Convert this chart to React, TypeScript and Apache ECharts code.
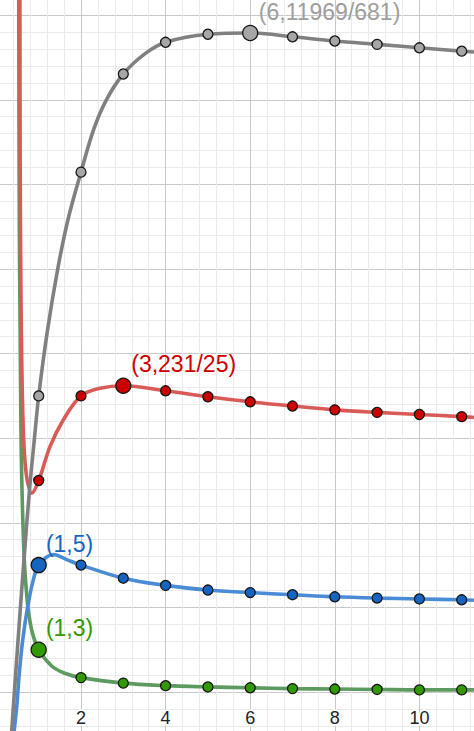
import React, { useEffect, useRef } from 'react';
import * as echarts from 'echarts';

// integer sample positions
const xInt = [1, 2, 3, 4, 5, 6, 7, 8, 9, 10, 11];

// values of the sequences at the integer positions
const grayValues = [9.0, 14.29, 16.61, 17.36, 17.55, 17.58, 17.49, 17.39, 17.31, 17.23, 17.15];
const redValues = [7.0, 9.0, 9.24, 9.12, 8.98, 8.86, 8.76, 8.67, 8.61, 8.56, 8.51];
const blueValues = [5.0, 5.0, 4.69, 4.52, 4.41, 4.35, 4.3, 4.25, 4.22, 4.2, 4.18];
const greenValues = [3.0, 2.34, 2.21, 2.15, 2.12, 2.1, 2.08, 2.07, 2.06, 2.05, 2.05];

// extra points
const grayCurveExtra = [
  [0.345, 0.85], [0.45, 2.35], [0.55, 3.75], [0.65, 5.1], [0.78, 6.75], [0.9, 8.0],
  [1.2, 10.5], [1.45, 12.0], [1.7, 13.2], [2.3, 15.3], [2.6, 16.0], [3.5, 17.08],
  [11.29, 17.13],
];
const redCurveExtra = [
  [0.555, 18.6], [0.562, 14.5], [0.575, 12.0], [0.59, 10.5], [0.61, 9.2], [0.64, 8.1],
  [0.68, 7.4], [0.74, 6.95], [0.834, 6.7], [1.267, 7.8], [1.58, 8.43], [2.45, 9.18], [11.29, 8.49],
];
const blueCurveExtra = [
  [0.41, 1.0], [0.48, 1.65], [0.541, 2.44], [0.622, 3.23], [0.74, 4.02], [0.873, 4.65],
  [1.35, 5.25], [1.66, 5.13], [11.29, 4.17],
];
const greenCurveExtra = [
  [0.528, 18.6], [0.535, 15.0], [0.545, 12.5], [0.563, 10.3], [0.58, 8.3], [0.6, 7.0],
  [0.63, 5.9], [0.66, 5.1], [0.7, 4.5], [0.754, 3.94], [0.85, 3.4], [1.3, 2.62], [1.6, 2.45],
  [11.29, 2.05],
];

// highlighted points and their labels
const grayPeakX = 6;
const grayPeakLabel = '(6,11969/681)';
const redPeakX = 3;
const redPeakLabel = '(3,231/25)';
const bluePeakX = 1;
const bluePeakLabel = '(1,5)';
const greenPeakX = 1;
const greenPeakLabel = '(1,3)';

const xTickLabels = ['2', '4', '6', '8', '10'];

const FONT = "'Liberation Sans', Arial, sans-serif";

function buildCurve(extra: number[][], values: number[]) {
  const pts = [...extra, ...xInt.map((x, i) => [x, values[i]])];
  pts.sort((a, b) => a[0] - b[0]);
  return pts;
}

function makeSeries(
  values: number[],
  extra: number[][],
  peakX: number,
  peakLabel: string,
  lineColor: string,
  pointColor: string,
  labelColor: string,
  labelOffset: [number, number],
  z: number
) {
  const small = xInt
    .map((x, i) => [x, values[i]])
    .filter((p) => p[0] !== peakX);
  const big = xInt
    .map((x, i) => [x, values[i]])
    .filter((p) => p[0] === peakX);
  return [
    {
      type: 'line',
      data: buildCurve(extra, values),
      smooth: 0.35,
      showSymbol: false,
      silent: true,
      lineStyle: { color: lineColor, width: 3.6 },
      z,
    },
    {
      type: 'scatter',
      data: small,
      symbolSize: 10,
      silent: true,
      itemStyle: { color: pointColor, borderColor: '#151515', borderWidth: 1.3, opacity: 1 },
      z: z + 10,
    },
    {
      type: 'scatter',
      data: big,
      symbolSize: 15,
      silent: true,
      itemStyle: { color: pointColor, borderColor: '#151515', borderWidth: 1.3, opacity: 1 },
      label: {
        show: true,
        formatter: peakLabel,
        position: [7.5 + labelOffset[0], 7.5 + labelOffset[1]],
        align: 'center',
        verticalAlign: 'middle',
        color: labelColor,
        fontSize: 23,
        fontFamily: FONT,
      },
      z: z + 11,
    },
  ];
}

export default function App() {
  const ref = useRef<HTMLDivElement>(null);

  useEffect(() => {
    if (!ref.current) return;
    const chart = echarts.init(ref.current, undefined, { renderer: 'svg' });
    const option = {
      animation: false,
      backgroundColor: '#ffffff',
      grid: {
        left: -3.6,
        right: -30,
        top: -69.4,
        bottom: -45.6,
        containLabel: false,
        outerBoundsMode: 'none',
      },
      xAxis: {
        type: 'value',
        min: 0,
        max: 12,
        interval: 2,
        axisLine: { show: false },
        axisTick: { show: false },
        splitLine: { show: true, lineStyle: { color: '#c9c9c9', width: 1 } },
        minorTick: { show: false, splitNumber: 5 },
        minorSplitLine: { show: true, lineStyle: { color: '#ebebeb', width: 1 } },
        axisLabel: {
          show: true,
          margin: -59,
          verticalAlign: 'middle',
          fontSize: 18,
          color: '#222',
          fontFamily: FONT,
          textBorderColor: '#fff',
          textBorderWidth: 3,
          formatter: (v: number) => (xTickLabels.includes(String(v)) ? String(v) : ''),
        },
      },
      yAxis: {
        type: 'value',
        min: 0,
        max: 20,
        interval: 2,
        axisLine: { show: false },
        axisTick: { show: false },
        axisLabel: { show: false },
        splitLine: { show: true, lineStyle: { color: '#c9c9c9', width: 1 } },
        minorTick: { show: false, splitNumber: 5 },
        minorSplitLine: { show: true, lineStyle: { color: '#ebebeb', width: 1 } },
      },
      series: [
        ...makeSeries(greenValues, greenCurveExtra, greenPeakX, greenPeakLabel, '#5c9a5f', '#339900', '#339900', [31.5, -20.8], 2),
        ...makeSeries(redValues, redCurveExtra, redPeakX, redPeakLabel, '#d95b58', '#cc0000', '#cc0000', [61, -20.7], 3),
        ...makeSeries(blueValues, blueCurveExtra, bluePeakX, bluePeakLabel, '#4a8bd6', '#1565c0', '#1565c0', [31.5, -20.3], 4),
        ...makeSeries(grayValues, grayCurveExtra, grayPeakX, grayPeakLabel, '#808080', '#a6a6a6', '#9e9e9e', [80, -20.5], 5),
      ],
    };
    chart.setOption(option as any);
    return () => chart.dispose();
  }, []);

  return (
    <div
      ref={ref}
      style={{ position: 'absolute', left: 0, top: 0, width: 474, height: 731 }}
    />
  );
}
